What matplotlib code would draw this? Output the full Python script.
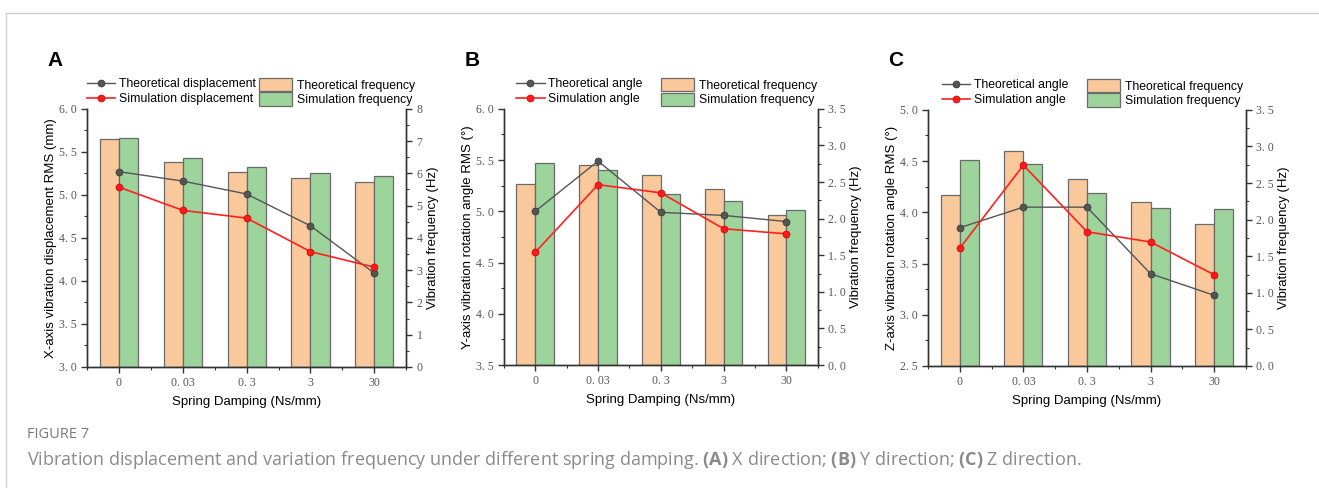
import numpy as np
import matplotlib.pyplot as plt
from matplotlib.ticker import MultipleLocator, FuncFormatter
from matplotlib.lines import Line2D

damping = ['0', '0. 03', '0. 3', '3', '30']

# panel A: X direction
a_theo_disp = [5.27, 5.16, 5.01, 4.64, 4.09]
a_sim_disp = [5.09, 4.82, 4.73, 4.34, 4.16]
a_theo_freq = [7.06, 6.35, 6.03, 5.86, 5.74]
a_sim_freq = [7.11, 6.49, 6.19, 6.02, 5.91]

# panel B: Y direction
b_theo_angle = [5.00, 5.49, 4.99, 4.96, 4.90]
b_sim_angle = [4.60, 5.26, 5.18, 4.83, 4.78]
b_theo_freq = [2.47, 2.73, 2.60, 2.40, 2.05]
b_sim_freq = [2.76, 2.67, 2.34, 2.24, 2.12]

# panel C: Z direction
c_theo_angle = [3.85, 4.05, 4.05, 3.40, 3.19]
c_sim_angle = [3.65, 4.46, 3.81, 3.71, 3.39]
c_theo_freq = [2.34, 2.94, 2.55, 2.24, 1.94]
c_sim_freq = [2.82, 2.76, 2.36, 2.16, 2.15]

ORANGE = '#f9c89b'
GREEN = '#9dd49c'
EDGE = '#6a6a6a'
TICKC = '#555555'

plt.rcParams['font.family'] = ['Liberation Sans', 'DejaVu Sans']
plt.rcParams['mathtext.fontset'] = 'custom'
plt.rcParams['mathtext.bf'] = 'Open Sans:bold'

fig = plt.figure(figsize=(13.19, 4.88), dpi=100)


def fmt(v, pos):
    s = ('%.1f' % v)
    return s.replace('.', '. ')


def panel(rect, letter, theo_line, sim_line, theo_bar, sim_bar,
          ylim, ylim2, major2, ylabel, line_names, leg1_x, leg2_x):
    ax2 = fig.add_axes(rect)
    ax = ax2.twinx()
    # left axis on the main (lines) axes
    ax.yaxis.tick_left()
    ax.yaxis.set_label_position('left')
    ax2.yaxis.tick_right()
    ax2.yaxis.set_label_position('right')
    ax.set_zorder(ax2.get_zorder() + 1)
    ax.patch.set_visible(False)

    x = np.arange(len(damping))
    w = 0.3
    b1 = ax2.bar(x - w / 2, theo_bar, w, color=ORANGE, edgecolor=EDGE, linewidth=0.9)
    b2 = ax2.bar(x + w / 2, sim_bar, w, color=GREEN, edgecolor=EDGE, linewidth=0.9)

    l1, = ax.plot(x, theo_line, '-o', color='#555555', lw=1.0, ms=5,
                  mfc='#555555', mec='#333333', mew=0.5)
    l2, = ax.plot(x, sim_line, '-o', color='#ff2020', lw=1.2, ms=5,
                  mfc='#ff1a1a', mec='#cc0000', mew=0.5)

    ax.set_xlim(-0.5, 4.5)
    ax.set_ylim(*ylim)
    ax2.set_ylim(*ylim2)
    ax.yaxis.set_major_locator(MultipleLocator(0.5))
    ax.yaxis.set_minor_locator(MultipleLocator(0.25))
    ax2.yaxis.set_major_locator(MultipleLocator(major2))
    ax2.yaxis.set_minor_locator(MultipleLocator(major2 / 2))
    ax.yaxis.set_major_formatter(FuncFormatter(fmt))
    if major2 < 1:
        ax2.yaxis.set_major_formatter(FuncFormatter(fmt))
    else:
        ax2.yaxis.set_major_formatter(FuncFormatter(lambda v, p: '%d' % v))

    ax2.set_xticks(x)
    ax2.set_xticklabels(damping)
    ax2.set_xticks(np.arange(-0.5, 5, 1.0), minor=True)

    for a in (ax, ax2):
        a.spines['top'].set_visible(False)
        for s in ('left', 'right', 'bottom'):
            a.spines[s].set_color('#333333')
            a.spines[s].set_linewidth(1.0)
        a.tick_params(which='major', direction='out', length=4, width=1.0,
                      color='#333333', labelsize=8.5, labelcolor=TICKC)
        a.tick_params(which='minor', direction='out', length=2.5, width=0.8,
                      color='#333333')
    for lab in ax.get_yticklabels() + ax2.get_yticklabels() + ax2.get_xticklabels():
        lab.set_family('Liberation Serif')

    ax.set_ylabel(ylabel, fontsize=9.5, labelpad=1)
    ax2.set_ylabel('Vibration frequency (Hz)', fontsize=9.5, labelpad=3)
    ax2.set_xlabel('Spring Damping (Ns/mm)', fontsize=9.5, labelpad=5)

    leg1 = ax.legend([l1, l2], line_names, loc='lower left',
                     bbox_to_anchor=(leg1_x, 1.015), frameon=False,
                     fontsize=8.8, handlelength=2.3, handletextpad=0.3,
                     labelspacing=0.25, borderaxespad=0, borderpad=0)
    ax.add_artist(leg1)
    ax.legend([b1, b2], ['Theoretical frequency', 'Simulation frequency'],
              loc='lower left', bbox_to_anchor=(leg2_x, 1.01), frameon=False,
              fontsize=8.8, handlelength=2.7, handleheight=1.3,
              handletextpad=0.4, labelspacing=0.05, borderaxespad=0,
              borderpad=0)

    fig.text(rect[0] - 0.03, 1 - 60 / 488, letter, fontsize=15, fontweight='bold',
             ha='left', va='center')


panel([0.066, 0.248, 0.242, 0.529], 'A', a_theo_disp, a_sim_disp,
      a_theo_freq, a_sim_freq, (3.0, 6.0), (0, 8), 1,
      'X-axis vibration displacement RMS (mm)',
      ['Theoretical displacement', 'Simulation displacement'], 0.0, 0.54)
panel([0.382, 0.252, 0.238, 0.525], 'B', b_theo_angle, b_sim_angle,
      b_theo_freq, b_sim_freq, (3.5, 6.0), (0, 3.5), 0.5,
      'Y-axis vibration rotation angle RMS (°)',
      ['Theoretical angle', 'Simulation angle'], 0.04, 0.50)
panel([0.7036, 0.25, 0.241, 0.525], 'C', c_theo_angle, c_sim_angle,
      c_theo_freq, c_sim_freq, (2.5, 5.0), (0, 3.5), 0.5,
      'Z-axis vibration rotation angle RMS (°)',
      ['Theoretical angle', 'Simulation angle'], 0.045, 0.50)

# card border
fig.add_artist(Line2D([6 / 1319, 1.0], [1 - 13 / 488, 1 - 13 / 488],
                      transform=fig.transFigure, color='#cfcfcf', lw=1))
fig.add_artist(Line2D([6 / 1319, 6 / 1319], [0, 1 - 13 / 488],
                      transform=fig.transFigure, color='#cfcfcf', lw=1))

fig.text(27 / 1319, 1 - 435 / 488, 'FIGURE 7', fontsize=10.5, color='#7a7a7a',
         family=['Open Sans', 'DejaVu Sans'], va='center')
fig.text(27 / 1319, 1 - 460 / 488,
         r'Vibration displacement and variation frequency under different spring damping. '
         r'$\mathbf{(A)}$ X direction; $\mathbf{(B)}$ Y direction; $\mathbf{(C)}$ Z direction.',
         fontsize=13, color='#8a8a8a', family=['Open Sans', 'DejaVu Sans'],
         va='center')

fig.savefig('out.png', dpi=100)
